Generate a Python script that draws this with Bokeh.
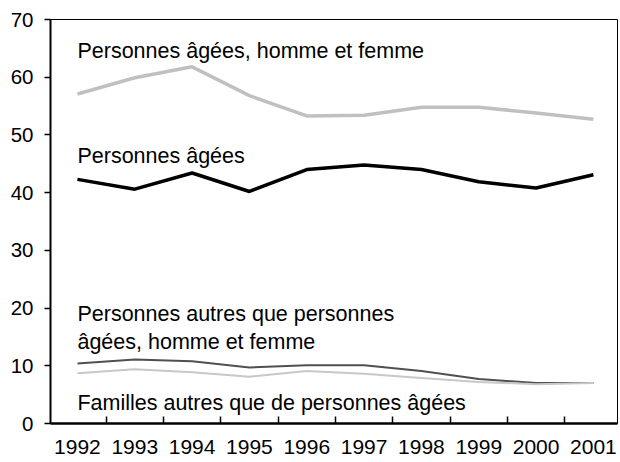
from bokeh.plotting import figure
from bokeh.models import FixedTicker, Range1d, ColumnDataSource
from bokeh.core.properties import value
from bokeh.embed import file_html
from bokeh.resources import INLINE

years = [1992, 1993, 1994, 1995, 1996, 1997, 1998, 1999, 2000, 2001]
agees_hf = [57.1, 59.9, 61.8, 56.8, 53.3, 53.4, 54.8, 54.8, 53.8, 52.7]
agees = [42.3, 40.6, 43.4, 40.2, 44.0, 44.8, 44.0, 41.9, 40.8, 43.1]
autres_hf = [10.4, 11.1, 10.8, 9.7, 10.1, 10.1, 9.1, 7.7, 7.0, 7.0]
familles = [8.7, 9.4, 8.9, 8.1, 9.1, 8.6, 7.9, 7.2, 6.8, 7.0]

label_texts = [
    "Personnes âgées, homme et femme",
    "Personnes âgées",
    "Personnes autres que personnes",
    "âgées, homme et femme",
    "Familles autres que de personnes âgées",
]
label_x = [1992, 1992, 1992, 1992, 1992]
label_y = [64.6, 46.3, 18.9, 14.1, 3.6]

y_ticks = [0, 10, 20, 30, 40, 50, 60, 70]

FONT = "Liberation Sans"

p = figure(
    width=618, height=460,
    output_backend="svg", toolbar_location=None,
    x_range=Range1d(1991.53, 2001.42), y_range=Range1d(0, 70),
    min_border_left=50, min_border_top=19, min_border_right=1, min_border_bottom=37,
)
p.grid.visible = False
p.outline_line_color = "black"
p.outline_line_width = 1
p.background_fill_color = "white"
p.border_fill_color = "white"

p.line(years, agees_hf, line_color="#c0c0c0", line_width=3.5)
p.line(years, agees, line_color="black", line_width=3.5)
p.line(years, autres_hf, line_color="#505050", line_width=2)
p.line(years, familles, line_color="#c8c8c8", line_width=2)

src = ColumnDataSource(dict(x=label_x, y=label_y, t=label_texts))
p.text(x="x", y="y", text="t", source=src, text_font=value(FONT),
       text_font_size="21.5px", text_color="black", text_baseline="alphabetic",
       text_align="left")

xa = p.xaxis[0]
xa.ticker = FixedTicker(ticks=years, minor_ticks=[y + 0.5 for y in years[:-1]])
xa.major_label_overrides = {y: str(y) for y in years}
xa.major_tick_in = 0
xa.major_tick_out = 0
xa.minor_tick_in = 7
xa.minor_tick_out = 0
xa.minor_tick_line_color = "black"
xa.minor_tick_line_width = 1.5
xa.axis_line_width = 2.5
xa.axis_line_color = "black"
xa.major_label_text_font = FONT
xa.major_label_text_font_size = "21px"
xa.major_label_text_color = "black"
xa.major_label_standoff = 16

ya = p.yaxis[0]
ya.ticker = FixedTicker(ticks=y_ticks)
ya.major_tick_in = 0
ya.major_tick_out = 6
ya.major_tick_line_width = 1.5
ya.minor_tick_in = 0
ya.minor_tick_out = 0
ya.axis_line_width = 2
ya.axis_line_color = "black"
ya.major_label_text_font = FONT
ya.major_label_text_font_size = "20.5px"
ya.major_label_text_color = "black"
ya.major_label_standoff = 11

open("out.html", "w").write(file_html(p, INLINE))
